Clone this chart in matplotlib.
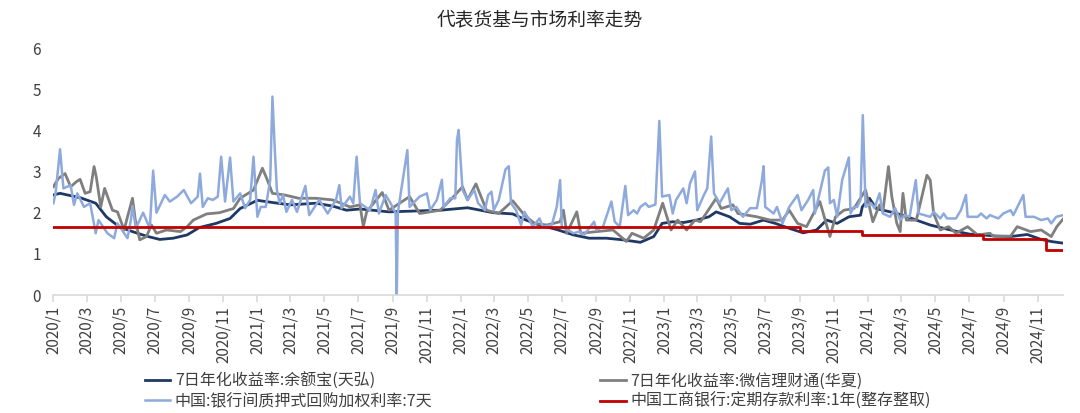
import matplotlib
matplotlib.use("Agg")
import matplotlib.pyplot as plt
import matplotlib.dates as mdates
import matplotlib.ticker as mticker
import pandas as pd

plt.rcParams['font.family'] = ['Noto Sans CJK SC', 'DejaVu Sans']

title = "代表货基与市场利率走势"
labels = ["7日年化收益率:余额宝(天弘)", "7日年化收益率:微信理财通(华夏)",
          "中国:银行间质押式回购加权利率:7天", "中国工商银行:定期存款利率:1年(整存整取)"]

# 余额宝 (天弘) 7-day annualised yield
yeb = [
    ("2020-01-01", 2.43), ("2020-01-13", 2.47), ("2020-02-19", 2.36), ("2020-03-17", 2.23),
    ("2020-04-05", 1.90), ("2020-04-28", 1.66), ("2020-05-22", 1.54), ("2020-06-16", 1.43),
    ("2020-07-10", 1.35), ("2020-08-03", 1.38), ("2020-08-28", 1.46), ("2020-09-19", 1.64),
    ("2020-10-19", 1.74), ("2020-11-13", 1.86), ("2020-12-01", 2.10), ("2021-01-01", 2.30),
    ("2021-02-01", 2.24), ("2021-03-01", 2.19), ("2021-04-16", 2.23), ("2021-05-16", 2.16),
    ("2021-06-10", 2.06), ("2021-07-04", 2.09), ("2021-08-25", 2.02), ("2021-11-25", 2.06),
    ("2022-01-13", 2.12), ("2022-02-28", 2.00), ("2022-04-04", 1.97), ("2022-04-28", 1.82),
    ("2022-05-22", 1.70), ("2022-06-22", 1.59), ("2022-07-22", 1.46), ("2022-08-19", 1.38),
    ("2022-09-19", 1.38), ("2022-10-19", 1.34), ("2022-11-19", 1.28), ("2022-12-13", 1.42),
    ("2022-12-28", 1.74), ("2023-01-16", 1.78), ("2023-02-04", 1.76), ("2023-02-28", 1.82),
    ("2023-03-22", 1.90), ("2023-04-04", 2.02), ("2023-04-28", 1.90), ("2023-05-16", 1.74),
    ("2023-06-04", 1.72), ("2023-06-28", 1.82), ("2023-07-19", 1.74), ("2023-08-13", 1.62),
    ("2023-09-07", 1.51), ("2023-10-01", 1.58), ("2023-10-19", 1.82), ("2023-11-07", 1.74),
    ("2023-11-28", 1.90), ("2023-12-19", 1.94), ("2023-12-22", 2.14), ("2024-01-04", 2.35),
    ("2024-01-16", 2.10), ("2024-02-10", 2.02), ("2024-03-04", 1.94), ("2024-03-28", 1.82),
    ("2024-04-22", 1.70), ("2024-05-16", 1.62), ("2024-06-10", 1.54), ("2024-07-01", 1.48),
    ("2024-07-25", 1.46), ("2024-08-19", 1.43), ("2024-09-13", 1.42), ("2024-10-13", 1.47),
    ("2024-11-07", 1.35), ("2024-11-25", 1.30), ("2024-12-16", 1.26),
]

# 微信理财通 (华夏) 7-day annualised yield
lct = [
    ("2020-01-01", 2.63), ("2020-01-10", 2.83), ("2020-01-22", 2.95), ("2020-02-01", 2.63),
    ("2020-02-12", 2.76), ("2020-02-18", 2.81), ("2020-02-27", 2.47), ("2020-03-07", 2.51),
    ("2020-03-14", 3.12), ("2020-03-18", 2.87), ("2020-03-26", 2.14), ("2020-04-02", 2.59),
    ("2020-04-16", 2.06), ("2020-04-25", 2.02), ("2020-05-07", 1.58), ("2020-05-13", 1.90),
    ("2020-05-22", 2.35), ("2020-05-27", 1.82), ("2020-06-04", 1.34), ("2020-06-16", 1.42),
    ("2020-06-25", 1.70), ("2020-07-04", 1.50), ("2020-07-22", 1.58), ("2020-08-16", 1.54),
    ("2020-08-28", 1.66), ("2020-09-08", 1.82), ("2020-10-02", 1.97), ("2020-10-25", 2.00),
    ("2020-11-19", 2.10), ("2020-12-01", 2.35), ("2020-12-25", 2.55), ("2021-01-10", 3.08),
    ("2021-01-19", 2.79), ("2021-01-28", 2.47), ("2021-02-19", 2.43), ("2021-03-16", 2.35),
    ("2021-04-16", 2.35), ("2021-05-16", 2.31), ("2021-06-16", 2.14), ("2021-07-04", 2.19),
    ("2021-07-10", 1.66), ("2021-07-16", 2.02), ("2021-08-13", 2.49), ("2021-08-25", 2.06),
    ("2021-10-01", 2.39), ("2021-10-19", 1.98), ("2021-11-25", 2.06), ("2021-12-19", 2.39),
    ("2022-01-04", 2.63), ("2022-01-13", 2.31), ("2022-01-28", 2.70), ("2022-02-16", 2.06),
    ("2022-03-10", 1.98), ("2022-04-04", 2.29), ("2022-04-25", 1.94), ("2022-05-13", 1.74),
    ("2022-06-04", 1.70), ("2022-06-28", 1.78), ("2022-07-04", 2.06), ("2022-07-10", 1.50),
    ("2022-07-28", 2.02), ("2022-08-04", 1.50), ("2022-09-01", 1.54), ("2022-10-01", 1.58),
    ("2022-10-25", 1.30), ("2022-11-04", 1.50), ("2022-11-25", 1.38), ("2022-12-13", 1.58),
    ("2022-12-29", 2.23), ("2023-01-13", 1.58), ("2023-01-25", 1.82), ("2023-02-10", 1.58),
    ("2023-02-25", 1.82), ("2023-03-07", 1.78), ("2023-04-04", 2.35), ("2023-04-13", 2.10),
    ("2023-05-04", 2.19), ("2023-05-13", 1.98), ("2023-06-16", 1.90), ("2023-07-10", 1.82),
    ("2023-08-01", 1.82), ("2023-08-13", 2.06), ("2023-08-28", 1.74), ("2023-09-13", 1.66),
    ("2023-10-07", 2.27), ("2023-10-25", 1.42), ("2023-11-04", 1.90), ("2023-11-19", 2.06),
    ("2023-12-07", 2.10), ("2023-12-28", 2.55), ("2024-01-10", 1.78), ("2024-01-22", 2.19),
    ("2024-01-28", 2.02), ("2024-02-07", 3.12), ("2024-02-13", 2.39), ("2024-02-22", 1.74),
    ("2024-02-28", 1.54), ("2024-03-04", 2.47), ("2024-03-10", 1.82), ("2024-03-28", 1.82),
    ("2024-04-16", 2.91), ("2024-04-22", 2.79), ("2024-04-28", 1.98), ("2024-05-10", 1.58),
    ("2024-05-25", 1.66), ("2024-06-07", 1.50), ("2024-06-28", 1.66), ("2024-07-16", 1.46),
    ("2024-08-07", 1.50), ("2024-08-13", 1.43), ("2024-09-13", 1.43), ("2024-09-25", 1.66),
    ("2024-10-19", 1.54), ("2024-11-07", 1.58), ("2024-11-25", 1.42), ("2024-12-05", 1.66),
    ("2024-12-16", 1.84),
]

# interbank pledged repo weighted rate, 7 days
repo = [
    ("2020-01-01", 2.23), ("2020-01-05", 2.47), ("2020-01-13", 3.54), ("2020-01-19", 2.59),
    ("2020-02-01", 2.67), ("2020-02-07", 2.19), ("2020-02-13", 2.47), ("2020-02-25", 2.14),
    ("2020-03-07", 2.23), ("2020-03-17", 1.50), ("2020-03-22", 1.82), ("2020-04-07", 1.50),
    ("2020-04-19", 1.38), ("2020-04-25", 1.74), ("2020-05-13", 1.38), ("2020-05-19", 1.82),
    ("2020-05-22", 2.16), ("2020-05-28", 1.62), ("2020-06-10", 2.00), ("2020-06-22", 1.62),
    ("2020-06-28", 3.02), ("2020-07-04", 2.00), ("2020-07-19", 2.43), ("2020-07-28", 2.27),
    ("2020-08-10", 2.39), ("2020-08-22", 2.55), ("2020-09-04", 2.23), ("2020-09-16", 2.39),
    ("2020-09-20", 2.95), ("2020-09-25", 2.14), ("2020-10-04", 2.35), ("2020-10-13", 2.31),
    ("2020-10-22", 2.39), ("2020-10-28", 3.36), ("2020-11-04", 2.27), ("2020-11-13", 3.34),
    ("2020-11-19", 2.27), ("2020-12-01", 2.47), ("2020-12-10", 2.11), ("2020-12-19", 2.31),
    ("2020-12-25", 3.36), ("2021-01-01", 1.90), ("2021-01-07", 2.14), ("2021-01-16", 2.14),
    ("2021-01-19", 2.39), ("2021-01-24", 2.79), ("2021-01-28", 4.82), ("2021-02-01", 3.60),
    ("2021-02-05", 2.55), ("2021-02-10", 2.23), ("2021-02-16", 2.43), ("2021-02-22", 2.02),
    ("2021-03-04", 2.31), ("2021-03-13", 2.02), ("2021-03-28", 2.65), ("2021-04-04", 1.94),
    ("2021-04-22", 2.31), ("2021-05-07", 1.98), ("2021-05-22", 2.31), ("2021-05-28", 2.67),
    ("2021-06-01", 2.11), ("2021-06-16", 2.39), ("2021-06-22", 2.23), ("2021-06-28", 3.36),
    ("2021-07-04", 2.23), ("2021-07-22", 2.06), ("2021-08-01", 2.55), ("2021-08-07", 1.98),
    ("2021-08-19", 2.43), ("2021-08-28", 2.23), ("2021-09-06", 1.98), ("2021-09-08", 0.00),
    ("2021-09-10", 2.00), ("2021-09-16", 2.55), ("2021-09-27", 3.52), ("2021-10-01", 2.14),
    ("2021-10-19", 2.39), ("2021-11-01", 2.47), ("2021-11-07", 2.06), ("2021-11-19", 2.31),
    ("2021-11-28", 2.80), ("2021-12-01", 2.14), ("2021-12-13", 2.35), ("2021-12-22", 2.35),
    ("2021-12-25", 3.76), ("2021-12-28", 4.01), ("2022-01-04", 2.55), ("2022-01-13", 2.31),
    ("2022-01-25", 2.55), ("2022-02-01", 2.23), ("2022-02-13", 2.06), ("2022-02-19", 2.43),
    ("2022-02-25", 2.51), ("2022-03-01", 2.06), ("2022-03-10", 2.31), ("2022-03-22", 3.05),
    ("2022-03-28", 3.13), ("2022-04-01", 2.23), ("2022-04-10", 2.06), ("2022-04-19", 1.70),
    ("2022-04-25", 2.02), ("2022-05-04", 1.82), ("2022-05-10", 1.66), ("2022-05-22", 1.86),
    ("2022-05-28", 1.66), ("2022-06-13", 1.70), ("2022-06-22", 2.14), ("2022-06-28", 2.79),
    ("2022-07-01", 1.66), ("2022-07-22", 1.50), ("2022-08-01", 1.54), ("2022-08-10", 1.46),
    ("2022-08-28", 1.78), ("2022-09-01", 1.58), ("2022-09-13", 1.66), ("2022-09-28", 2.27),
    ("2022-10-04", 1.78), ("2022-10-13", 1.66), ("2022-10-23", 2.65), ("2022-10-28", 1.94),
    ("2022-11-07", 2.06), ("2022-11-13", 1.98), ("2022-11-19", 2.14), ("2022-11-28", 2.23),
    ("2022-12-04", 2.14), ("2022-12-16", 2.20), ("2022-12-23", 4.23), ("2022-12-28", 2.39),
    ("2023-01-10", 2.43), ("2023-01-16", 1.98), ("2023-01-22", 2.31), ("2023-02-04", 2.59),
    ("2023-02-10", 2.23), ("2023-02-16", 2.71), ("2023-02-25", 3.00), ("2023-03-01", 2.06),
    ("2023-03-13", 2.43), ("2023-03-19", 2.59), ("2023-03-26", 3.85), ("2023-03-31", 2.47),
    ("2023-04-10", 2.23), ("2023-04-25", 2.59), ("2023-05-01", 2.06), ("2023-05-10", 2.14),
    ("2023-05-22", 1.90), ("2023-06-04", 2.11), ("2023-06-16", 2.11), ("2023-06-25", 2.79),
    ("2023-06-28", 3.13), ("2023-07-01", 2.14), ("2023-07-16", 1.98), ("2023-07-22", 2.14),
    ("2023-08-01", 1.74), ("2023-08-13", 2.14), ("2023-08-28", 2.43), ("2023-09-04", 2.06),
    ("2023-09-16", 2.31), ("2023-09-25", 2.55), ("2023-09-28", 1.98), ("2023-10-16", 3.02),
    ("2023-10-22", 3.10), ("2023-10-25", 2.23), ("2023-11-01", 2.31), ("2023-11-07", 1.90),
    ("2023-11-16", 2.79), ("2023-11-28", 3.34), ("2023-12-01", 1.98), ("2023-12-07", 2.14),
    ("2023-12-13", 2.14), ("2023-12-19", 2.31), ("2023-12-23", 4.37), ("2023-12-28", 2.14),
    ("2024-01-07", 2.23), ("2024-01-13", 2.11), ("2024-01-22", 2.47), ("2024-01-28", 1.98),
    ("2024-02-10", 1.90), ("2024-02-19", 2.11), ("2024-02-28", 1.82), ("2024-03-07", 1.94),
    ("2024-03-16", 1.90), ("2024-03-27", 2.79), ("2024-04-01", 1.98), ("2024-04-22", 1.90),
    ("2024-04-28", 2.02), ("2024-05-10", 1.86), ("2024-05-16", 1.98), ("2024-05-22", 1.86),
    ("2024-06-07", 1.86), ("2024-06-16", 2.06), ("2024-06-25", 2.43), ("2024-06-28", 1.90),
    ("2024-07-16", 1.90), ("2024-07-22", 1.98), ("2024-08-01", 1.86), ("2024-08-07", 1.94),
    ("2024-08-22", 1.86), ("2024-08-31", 1.98), ("2024-09-13", 2.06), ("2024-09-18", 1.94),
    ("2024-10-06", 2.43), ("2024-10-10", 1.90), ("2024-10-25", 1.90), ("2024-11-07", 1.82),
    ("2024-11-19", 1.86), ("2024-11-25", 1.74), ("2024-12-04", 1.90), ("2024-12-16", 1.94),
]

# ICBC 1-year time deposit rate (step changes)
icbc = [
    ("2020-01-01", 1.65), ("2023-09-01", 1.55), ("2023-12-22", 1.45),
    ("2024-07-25", 1.35), ("2024-11-15", 1.10), ("2024-12-16", 1.10),
]


def to_frame(pairs):
    df = pd.DataFrame(pairs, columns=["date", "value"])
    df["date"] = pd.to_datetime(df["date"])
    return df


fig = plt.figure(figsize=(10.8, 4.13), dpi=100)
ax = fig.add_axes([0.0494, 0.2857, 0.9348, 0.598])

series = [
    (yeb, "#1F3864", 2.0, "default"),
    (lct, "#7F7F7F", 2.0, "default"),
    (repo, "#8EA9DB", 1.8, "default"),
    (icbc, "#C00000", 2.0, "steps-post"),
]
handles = []
for (pairs, color, lw, ds), label in zip(series, labels):
    df = to_frame(pairs)
    h, = ax.plot(df["date"], df["value"], color=color, lw=lw, drawstyle=ds, label=label)
    handles.append(h)

ax.set_ylim(0, 6)
ax.set_xlim(pd.Timestamp("2020-01-01"), pd.Timestamp("2024-12-16"))
ax.yaxis.set_major_locator(mticker.MultipleLocator(1))
ax.xaxis.set_major_locator(mdates.MonthLocator(bymonth=[1, 3, 5, 7, 9, 11]))
ax.xaxis.set_major_formatter(mticker.FuncFormatter(
    lambda v, p: f"{mdates.num2date(v).year}/{mdates.num2date(v).month}"))

for s in ["top", "right", "left"]:
    ax.spines[s].set_visible(False)
ax.spines["bottom"].set_color("#D9D9D9")
ax.spines["bottom"].set_linewidth(1.2)
ax.tick_params(axis="y", length=0, pad=9, labelsize=11, labelcolor="#404040")
ax.tick_params(axis="x", length=5, color="#D9D9D9", width=1.2, pad=3,
               labelsize=11, labelcolor="#404040")
for lab in ax.get_xticklabels():
    lab.set_rotation(90)
    lab.set_va("top")
    lab.set_ha("center")

fig.text(0.5, 0.952, title, ha="center", va="center", fontsize=13.5, color="#262626")

order = [handles[0], handles[2], handles[1], handles[3]]
fig.legend(order, [h.get_label() for h in order], loc="center", ncol=2,
           bbox_to_anchor=(0.498, 0.052), frameon=False, fontsize=11.5,
           handlelength=1.6, handletextpad=0.3, columnspacing=10.5,
           labelspacing=0.2, labelcolor="#404040")

fig.savefig("out.png", dpi=100)
